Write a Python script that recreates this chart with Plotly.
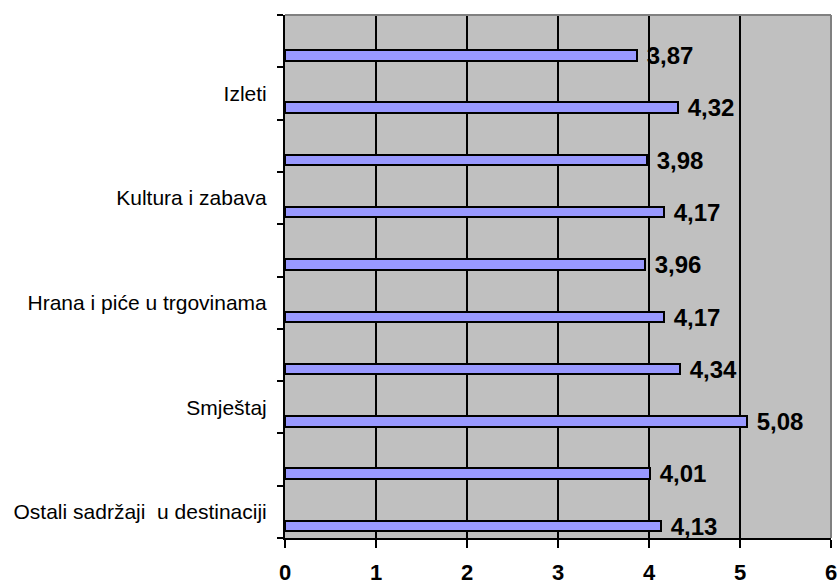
import plotly.graph_objects as go

# Category labels (bottom -> top), each labels a pair of bar slots
categories = ["Ostali sadržaji \u00a0u destinaciji", "Smještaj",
              "Hrana i piće u trgovinama", "Kultura i zabava", "Izleti"]
# Bar values, bottom -> top (10 slots)
values = [4.13, 4.01, 5.08, 4.34, 4.17, 3.96, 4.17, 3.98, 4.32, 3.87]
value_labels = ["\u00a0" + f"{v:.2f}".replace(".", ",") for v in values]
x_ticks = [0, 1, 2, 3, 4, 5, 6]

n_slots = len(values)
slot_pos = [i + 0.23 for i in range(n_slots)]
label_pos = [2 * k + 0.5 for k in range(len(categories))]

fig = go.Figure()
fig.add_trace(go.Bar(
    x=values, y=slot_pos, orientation="h", width=0.2,
    marker=dict(color="#9999FF", line=dict(color="black", width=2)),
    text=value_labels, textposition="outside", constraintext="none",
    textfont=dict(family="Liberation Sans, Arial", size=24, color="black", weight="bold"),
    cliponaxis=False, hoverinfo="skip",
))

fig.update_layout(
    width=839, height=586,
    margin=dict(l=285, r=8, t=15, b=48, autoexpand=False),
    paper_bgcolor="white", plot_bgcolor="#C0C0C0",
    showlegend=False, bargap=0,
    font=dict(family="Liberation Sans, Arial", color="black"),
)
fig.update_xaxes(
    range=[0, 6], tickvals=x_ticks, ticktext=[str(t) for t in x_ticks],
    ticks="outside", ticklen=8, tickwidth=2, tickcolor="black",
    showline=True, linecolor="black", linewidth=2,
    showgrid=True, gridcolor="black", gridwidth=2, zeroline=False,
    tickfont=dict(size=22, weight="bold"), ticklabelstandoff=6,
    automargin=False, fixedrange=True,
)
fig.update_yaxes(
    range=[0, n_slots], tickvals=label_pos, ticktext=categories,
    ticks="", showline=True, linecolor="black", linewidth=2,
    showgrid=False, zeroline=False,
    tickfont=dict(size=21), ticklabelstandoff=12,
    minor=dict(tickvals=list(range(n_slots + 1)), ticks="outside",
               ticklen=6, tickwidth=2, tickcolor="black", showgrid=False),
    automargin=False, fixedrange=True,
)
# gray plot-area border on top and right
fig.add_shape(type="line", xref="paper", yref="paper", x0=0, x1=1, y0=1, y1=1,
              line=dict(color="#808080", width=2), layer="above")
fig.add_shape(type="line", xref="paper", yref="paper", x0=1, x1=1, y0=0, y1=1,
              line=dict(color="#808080", width=2), layer="above")

fig.write_html("out.html", post_script="document.body.style.margin='0';",
               config={"displayModeBar": False})
